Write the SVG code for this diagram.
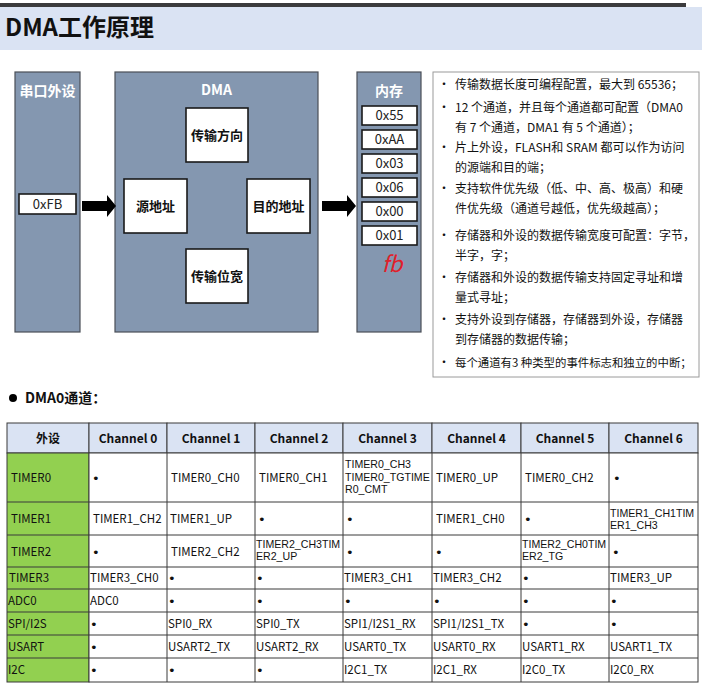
<svg xmlns="http://www.w3.org/2000/svg" width="702" height="694" viewBox="0 0 702 694">
<style>
text{font-family:"Noto Sans CJK SC","Noto Sans",sans-serif;}
.panel{fill:#8497B0;stroke:#4a4f57;stroke-width:1.2;}
.ptitle{fill:#fff;font-weight:bold;font-size:14px;text-anchor:middle;}
.box{fill:#fff;stroke:#1a1a1a;stroke-width:1.6;}
.blabel{fill:#111;font-weight:bold;font-size:13px;text-anchor:middle;}
.mtext{fill:#222;font-size:13px;text-anchor:middle;}
.bl{fill:#111;font-size:12px;}
.th{fill:#DAE3F3;stroke:#3a3a3a;stroke-width:1;}
.tg{fill:#92D050;stroke:#3a3a3a;stroke-width:1;}
.tc{fill:#fff;stroke:#3a3a3a;stroke-width:1;}
.hd{fill:#111;font-weight:bold;font-size:12px;text-anchor:middle;}
.ct{fill:#111;font-size:11.5px;}
.ml{fill:#111;font-size:10.6px;font-family:"Liberation Sans",Arial,sans-serif;}
.dot{fill:#111;font-size:13px;font-family:"DejaVu Sans",sans-serif;}
</style>
<rect x="0" y="3" width="686" height="4" fill="#3b3b3d"/>
<rect x="0" y="7" width="702" height="43" fill="#DAE3F3"/>
<text x="5" y="36" font-size="24" font-weight="bold" fill="#111">DMA工作原理</text>

<g id="uart">
<rect class="panel" x="15" y="72" width="65" height="260"/>
<text class="ptitle" x="47.5" y="96">串口外设</text>
<rect class="box" x="19" y="194" width="57" height="20" stroke-width="1.2"/>
<text class="mtext" x="47.5" y="209">0xFB</text>
</g>

<g id="dma">
<rect class="panel" x="115" y="72" width="203" height="260"/>
<text class="ptitle" x="216.5" y="95">DMA</text>
<g id="dir"><rect class="box" x="186" y="108" width="62" height="54"/><text class="blabel" x="217" y="140">传输方向</text></g>
<g id="src"><rect class="box" x="124" y="179" width="63" height="54"/><text class="blabel" x="155.5" y="211">源地址</text></g>
<g id="dst"><rect class="box" x="247" y="179" width="63" height="54"/><text class="blabel" x="278.5" y="211">目的地址</text></g>
<g id="width"><rect class="box" x="186" y="249" width="62" height="54"/><text class="blabel" x="217" y="281">传输位宽</text></g>
</g>

<g id="mem">
<rect class="panel" x="357" y="72" width="64" height="260"/>
<text class="ptitle" x="389" y="96">内存</text>
<rect class="box" x="362" y="106" width="55" height="19" stroke-width="1.2"/><text class="mtext" x="389.5" y="120">0x55</text>
<rect class="box" x="362" y="130" width="55" height="19" stroke-width="1.2"/><text class="mtext" x="389.5" y="144">0xAA</text>
<rect class="box" x="362" y="154" width="55" height="19" stroke-width="1.2"/><text class="mtext" x="389.5" y="168">0x03</text>
<rect class="box" x="362" y="178" width="55" height="19" stroke-width="1.2"/><text class="mtext" x="389.5" y="192">0x06</text>
<rect class="box" x="362" y="202" width="55" height="19" stroke-width="1.2"/><text class="mtext" x="389.5" y="216">0x00</text>
<rect class="box" x="362" y="226" width="55" height="19" stroke-width="1.2"/><text class="mtext" x="389.5" y="240">0x01</text>
<text x="392" y="272" font-size="22" fill="#e0202a" text-anchor="middle" font-family="DejaVu Sans" font-style="italic">fb</text>
</g>

<g id="connectors" fill="#000">
<polygon points="82,201 107,201 107,195 116,206 107,217 107,211 82,211"/>
<polygon points="322,201 347,201 347,195 356,206 347,217 347,211 322,211"/>
</g>

<g id="features">
<rect x="433" y="72" width="266" height="305" fill="#fff" stroke="#9a9a9a" stroke-width="1"/>
<text class="bl" x="438" y="89">•</text><text class="bl" x="455" y="89">传输数据长度可编程配置，最大到 65536；</text>
<text class="bl" x="438" y="112">•</text><text class="bl" x="455" y="112">12 个通道，并且每个通道都可配置（DMA0</text>
<text class="bl" x="455" y="132">有 7 个通道，DMA1 有 5 个通道）；</text>
<text class="bl" x="438" y="152">•</text><text class="bl" x="455" y="152">片上外设，FLASH和 SRAM 都可以作为访问</text>
<text class="bl" x="455" y="172">的源端和目的端；</text>
<text class="bl" x="438" y="193">•</text><text class="bl" x="455" y="193">支持软件优先级（低、中、高、极高）和硬</text>
<text class="bl" x="455" y="213">件优先级（通道号越低，优先级越高）；</text>
<text class="bl" x="438" y="240">•</text><text class="bl" x="455" y="240">存储器和外设的数据传输宽度可配置：字节，</text>
<text class="bl" x="455" y="260">半字，字；</text>
<text class="bl" x="438" y="282">•</text><text class="bl" x="455" y="282">存储器和外设的数据传输支持固定寻址和增</text>
<text class="bl" x="455" y="302">量式寻址；</text>
<text class="bl" x="438" y="324">•</text><text class="bl" x="455" y="324">支持外设到存储器，存储器到外设，存储器</text>
<text class="bl" x="455" y="344">到存储器的数据传输；</text>
<text class="bl" x="438" y="367">•</text><text class="bl" x="455" y="367" style="font-size:11.4px">每个通道有3 种类型的事件标志和独立的中断；</text>
</g>

<circle cx="13" cy="398" r="4" fill="#000"/>
<text x="25" y="403" font-size="14" font-weight="bold" fill="#111">DMA0通道：</text>

<g id="table">
<rect class="th" x="7" y="423" width="82" height="30"/>
<rect class="th" x="89" y="423" width="78" height="30"/>
<rect class="th" x="167" y="423" width="88" height="30"/>
<rect class="th" x="255" y="423" width="88" height="30"/>
<rect class="th" x="343" y="423" width="89" height="30"/>
<rect class="th" x="432" y="423" width="89" height="30"/>
<rect class="th" x="521" y="423" width="88" height="30"/>
<rect class="th" x="609" y="423" width="89" height="30"/>
<text class="hd" x="48" y="443">外设</text>
<text class="hd" x="128" y="443">Channel 0</text>
<text class="hd" x="211" y="443">Channel 1</text>
<text class="hd" x="299" y="443">Channel 2</text>
<text class="hd" x="387.5" y="443">Channel 3</text>
<text class="hd" x="476.5" y="443">Channel 4</text>
<text class="hd" x="565" y="443">Channel 5</text>
<text class="hd" x="653.5" y="443">Channel 6</text>

<rect class="tg" x="7" y="453" width="82" height="229"/>
<rect class="tc" x="89" y="453" width="609" height="229"/>
<g stroke="#3a3a3a" stroke-width="1">
<line x1="7" y1="502" x2="698" y2="502"/>
<line x1="7" y1="535" x2="698" y2="535"/>
<line x1="7" y1="567" x2="698" y2="567"/>
<line x1="7" y1="589" x2="698" y2="589"/>
<line x1="7" y1="612" x2="698" y2="612"/>
<line x1="7" y1="635" x2="698" y2="635"/>
<line x1="7" y1="658" x2="698" y2="658"/>
<line x1="167" y1="453" x2="167" y2="682"/>
<line x1="255" y1="453" x2="255" y2="682"/>
<line x1="343" y1="453" x2="343" y2="682"/>
<line x1="432" y1="453" x2="432" y2="682"/>
<line x1="521" y1="453" x2="521" y2="682"/>
<line x1="609" y1="453" x2="609" y2="682"/>
</g>

<text class="ct" x="11" y="482">TIMER0</text>
<text class="dot" x="92" y="483">•</text>
<text class="ct" x="171" y="482">TIMER0_CH0</text>
<text class="ct" x="259" y="482">TIMER0_CH1</text>
<text class="ml"><tspan x="345" y="468">TIMER0_CH3</tspan><tspan x="345" y="480.5">TIMER0_TGTIME</tspan><tspan x="345" y="493">R0_CMT</tspan></text>
<text class="ct" x="436" y="482">TIMER0_UP</text>
<text class="ct" x="525" y="482">TIMER0_CH2</text>
<text class="dot" x="613" y="483">•</text>

<text class="ct" x="11" y="523">TIMER1</text>
<text class="ct" x="93" y="523">TIMER1_CH2</text>
<text class="ct" x="170" y="523">TIMER1_UP</text>
<text class="dot" x="258" y="524">•</text>
<text class="dot" x="346" y="524">•</text>
<text class="ct" x="436" y="523">TIMER1_CH0</text>
<text class="dot" x="524" y="524">•</text>
<text class="ml"><tspan x="610" y="516.5">TIMER1_CH1TIM</tspan><tspan x="610" y="529">ER1_CH3</tspan></text>

<text class="ct" x="11" y="556">TIMER2</text>
<text class="dot" x="92" y="557">•</text>
<text class="ct" x="171" y="556">TIMER2_CH2</text>
<text class="ml"><tspan x="256" y="547.5">TIMER2_CH3TIM</tspan><tspan x="256" y="560">ER2_UP</tspan></text>
<text class="dot" x="346" y="557">•</text>
<text class="dot" x="435" y="557">•</text>
<text class="ml"><tspan x="522" y="547.5">TIMER2_CH0TIM</tspan><tspan x="522" y="560">ER2_TG</tspan></text>
<text class="dot" x="612" y="557">•</text>

<text class="ct" x="9" y="582">TIMER3</text>
<text class="ct" x="90" y="582">TIMER3_CH0</text>
<text class="dot" x="168" y="583">•</text>
<text class="dot" x="256" y="583">•</text>
<text class="ct" x="344" y="582">TIMER3_CH1</text>
<text class="ct" x="433" y="582">TIMER3_CH2</text>
<text class="dot" x="522" y="583">•</text>
<text class="ct" x="610" y="582">TIMER3_UP</text>

<text class="ct" x="8" y="605">ADC0</text>
<text class="ct" x="90" y="605">ADC0</text>
<text class="dot" x="168" y="606">•</text>
<text class="dot" x="256" y="606">•</text>
<text class="dot" x="344" y="606">•</text>
<text class="dot" x="433" y="606">•</text>
<text class="dot" x="522" y="606">•</text>
<text class="dot" x="610" y="606">•</text>

<text class="ct" x="8" y="628">SPI/I2S</text>
<text class="dot" x="90" y="629">•</text>
<text class="ct" x="168" y="628">SPI0_RX</text>
<text class="ct" x="256" y="628">SPI0_TX</text>
<text class="ct" x="344" y="628">SPI1/I2S1_RX</text>
<text class="ct" x="433" y="628">SPI1/I2S1_TX</text>
<text class="dot" x="522" y="629">•</text>
<text class="dot" x="610" y="629">•</text>

<text class="ct" x="8" y="651">USART</text>
<text class="dot" x="90" y="652">•</text>
<text class="ct" x="168" y="651">USART2_TX</text>
<text class="ct" x="256" y="651">USART2_RX</text>
<text class="ct" x="344" y="651">USART0_TX</text>
<text class="ct" x="433" y="651">USART0_RX</text>
<text class="ct" x="522" y="651">USART1_RX</text>
<text class="ct" x="610" y="651">USART1_TX</text>

<text class="ct" x="8" y="674">I2C</text>
<text class="dot" x="90" y="675">•</text>
<text class="dot" x="168" y="675">•</text>
<text class="dot" x="256" y="675">•</text>
<text class="ct" x="344" y="674">I2C1_TX</text>
<text class="ct" x="433" y="674">I2C1_RX</text>
<text class="ct" x="522" y="674">I2C0_TX</text>
<text class="ct" x="610" y="674">I2C0_RX</text>
</g>
</svg>
